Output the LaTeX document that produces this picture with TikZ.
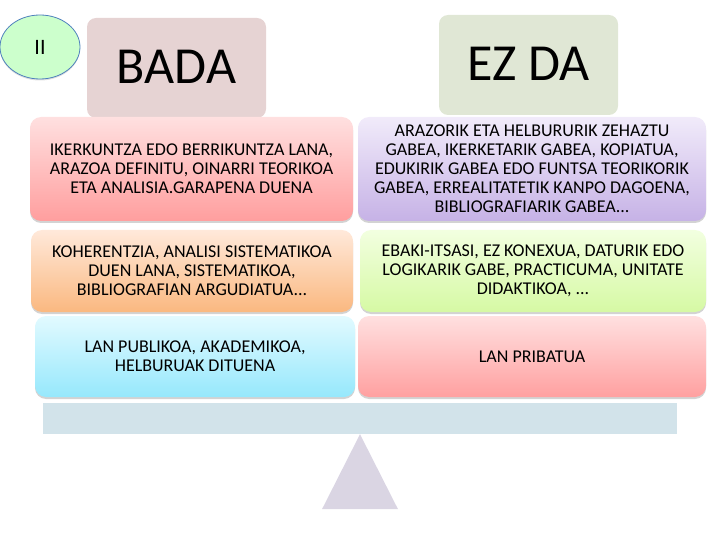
\documentclass[tikz,border=0pt]{standalone}
\usepackage{fontspec}
\setmainfont{Carlito}
\usetikzlibrary{shapes.geometric, shadows, positioning}
\definecolor{ovalfill}{RGB}{204,255,204}
\definecolor{ovalline}{RGB}{79,129,189}
\definecolor{badafill}{RGB}{230,211,211}
\definecolor{ezdafill}{RGB}{224,231,213}
\definecolor{beamfill}{RGB}{210,227,234}
\definecolor{pivotfill}{RGB}{218,213,227}
\tikzstyle{oval} = [ellipse, minimum width=80pt, minimum height=64pt, draw=ovalline, line width=0.8pt, fill=ovalfill, font=\fontsize{22}{26}\selectfont, drop shadow={opacity=0.25, shadow xshift=0pt, shadow yshift=-1.5pt}]
\tikzstyle{head} = [rectangle, rounded corners=9pt, minimum width=179pt, minimum height=100pt, text centered, font=\fontsize{52}{60}\selectfont]
\tikzstyle{item} = [rectangle, rounded corners=11pt, align=center, inner sep=0pt, font=\fontsize{18}{19}\selectfont, drop shadow={opacity=0.35, shadow xshift=0pt, shadow yshift=-2pt}]
\tikzstyle{pinkgrad} = [item, top color={rgb,255:red,255;green,224;blue,224}, bottom color={rgb,255:red,255;green,158;blue,158}]
\tikzstyle{purplegrad} = [item, top color={rgb,255:red,241;green,235;blue,250}, bottom color={rgb,255:red,198;green,178;blue,230}]
\tikzstyle{orangegrad} = [item, top color={rgb,255:red,255;green,233;blue,218}, bottom color={rgb,255:red,250;green,184;blue,128}]
\tikzstyle{greengrad} = [item, top color={rgb,255:red,242;green,255;blue,224}, bottom color={rgb,255:red,214;green,249;blue,164}]
\tikzstyle{bluegrad} = [item, top color={rgb,255:red,226;green,250;blue,255}, bottom color={rgb,255:red,150;green,232;blue,252}]
\tikzstyle{redgrad} = [item, top color={rgb,255:red,255;green,224;blue,224}, bottom color={rgb,255:red,255;green,160;blue,160}]
\tikzstyle{beam} = [rectangle, fill=beamfill, minimum width=634pt, minimum height=31pt]

\begin{document}
\begin{tikzpicture}[x=1pt, y=-1pt]
		\useasboundingbox (0,0) rectangle (720,540);
		\node (bada) [head, fill=badafill] at (176.5,68) {\raisebox{3pt}{BADA}};
		\node (ezda) [head, fill=ezdafill] at (528.5,65) {\raisebox{3pt}{EZ DA}};
		\node (num) [oval] at (40,47) {II};

		% bada zutabea
		\node (iker) [pinkgrad, minimum width=323pt, minimum height=104pt] at (191.5,169) {IKERKUNTZA EDO BERRIKUNTZA LANA,\\ARAZOA DEFINITU, OINARRI TEORIKOA\\ETA ANALISIA.GARAPENA DUENA};
		\node (kohe) [orangegrad, minimum width=322pt, minimum height=82pt] at (192,271) {KOHERENTZIA, ANALISI SISTEMATIKOA\\DUEN LANA, SISTEMATIKOA,\\BIBLIOGRAFIAN ARGUDIATUA...};
		\node (publ) [bluegrad, minimum width=320pt, minimum height=81pt] at (195,356.5) {LAN PUBLIKOA, AKADEMIKOA,\\HELBURUAK DITUENA};

		% ez da zutabea
		\node (arazo) [purplegrad, minimum width=348pt, minimum height=104pt] at (532,169) {ARAZORIK ETA HELBURURIK ZEHAZTU\\GABEA, IKERKETARIK GABEA, KOPIATUA,\\EDUKIRIK GABEA EDO FUNTSA TEORIKORIK\\GABEA, ERREALITATETIK KANPO DAGOENA,\\BIBLIOGRAFIARIK GABEA...};
		\node (ebaki) [greengrad, minimum width=346pt, minimum height=82pt] at (533,271) {EBAKI-ITSASI, EZ KONEXUA, DATURIK EDO\\LOGIKARIK GABE, PRACTICUMA, UNITATE\\DIDAKTIKOA, ...};
		\node (priv) [redgrad, minimum width=348pt, minimum height=81pt] at (532,356.5) {LAN PRIBATUA};

		% balantza
		\node (balance) [beam] at (360,418.5) {};
		\fill [pivotfill] (balance.south) -- ++(-38,75) -- ++(76,0) -- cycle;
	\end{tikzpicture}
\end{document}
